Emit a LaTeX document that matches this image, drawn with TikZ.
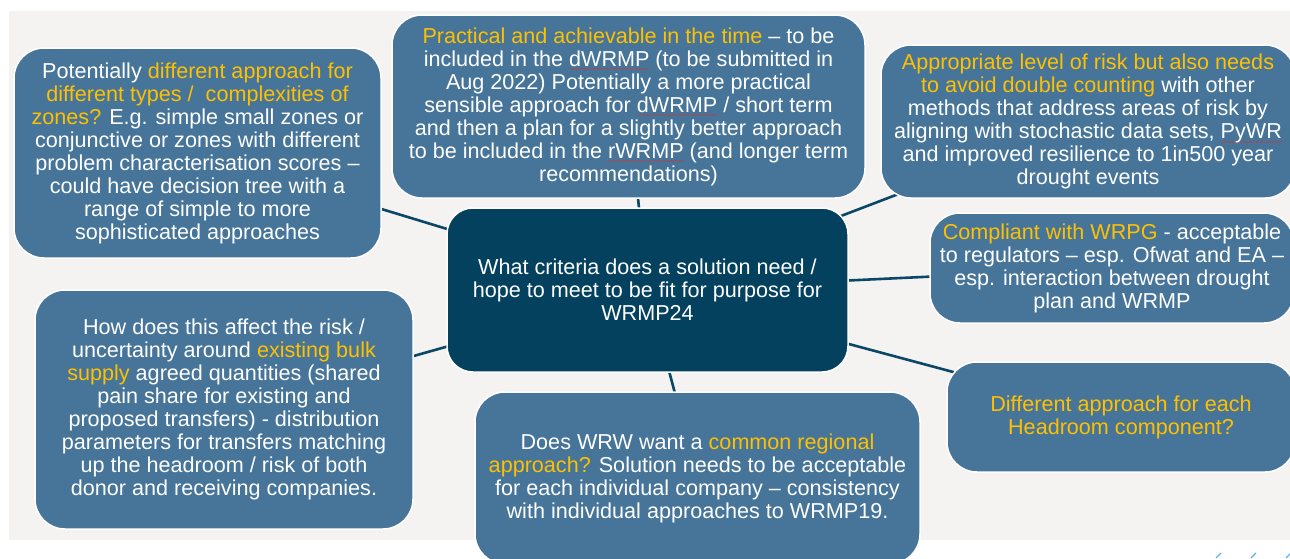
\documentclass[tikz,border=0pt]{standalone}
\usepackage{fontspec}
\setmainfont{Liberation Sans}
\definecolor{boxblue}{RGB}{70,117,153}
\definecolor{hubblue}{RGB}{3,65,95}
\definecolor{linkblue}{RGB}{11,72,104}
\definecolor{accent}{RGB}{255,192,0}
\definecolor{panelgrey}{RGB}{244,243,241}
\definecolor{spellred}{RGB}{215,50,50}
\definecolor{tickblue}{RGB}{90,180,230}
% highlighted phrase
\newcommand\ylw[1]{\textcolor{accent}{#1}}
% word with a red wavy proofing underline
\newcommand\sqword[1]{\setbox0=\hbox{#1}%
  \rlap{\raisebox{-6.5pt}{\textcolor{spellred}{\hbox to \wd0{\fontsize{9}{9}\selectfont
    \xleaders\hbox{\kern-0.6pt\textasciitilde\kern-0.6pt}\hfil}}}}\box0\relax}
\pgfdeclarelayer{bg}
\pgfsetlayers{bg,main}
\tikzset{
  idea/.style={draw=white, line width=1.5pt, fill=boxblue, rounded corners=30pt,
    text=white, align=center, inner sep=0pt,
    font=\fontsize{21.6}{23}\selectfont},
  hub/.style={idea, fill=hubblue, rounded corners=26pt},
  link/.style={draw=linkblue, line width=2.6pt}
}
\begin{document}
\begin{tikzpicture}[x=1pt,y=-1pt]
\useasboundingbox (0,0) rectangle (1290,558);

\node[hub, minimum width=401pt, minimum height=164pt] (c) at (647.5,290)
  {What criteria does a solution need /\\
   hope to meet to be fit for purpose for\\
   WRMP24};

\node[idea, minimum width=367pt, minimum height=210pt] (tl) at (197.5,153)
  {Potentially \ylw{different approach for}\\
   \ylw{different types /\ \ complexities of}\\
   \ylw{zones?} E.g. simple small zones or\\
   conjunctive or zones with different\\
   problem characterisation scores --\\
   could have decision tree with a\\
   range of simple to more\\
   sophisticated approaches};

\node[idea, minimum width=473pt, minimum height=183pt] (tc) at (628.5,106.5)
  {\ylw{Practical and achievable in the time} -- to be\\
   included in the \sqword{dWRMP} (to be submitted in\\
   Aug 2022) Potentially a more practical\\
   sensible approach for \sqword{dWRMP} / short term\\
   and then a plan for a slightly better approach\\
   to be included in the \sqword{rWRMP} (and longer term\\
   recommendations)};

\node[idea, minimum width=414pt, minimum height=153pt] (tr) at (1088,121.5)
  {\ylw{Appropriate level of risk but also needs}\\
   \ylw{to avoid double counting} with other\\
   methods that address areas of risk by\\
   aligning with stochastic data sets, \sqword{PyWR}\\
   and improved resilience to 1in500 year\\
   drought events};

\node[idea, minimum width=364pt, minimum height=110pt] (r1) at (1112,268)
  {\ylw{Compliant with WRPG} - acceptable\\
   to regulators -- esp. Ofwat and EA --\\
   esp. interaction between drought\\
   plan and WRMP};

\node[idea, minimum width=348pt, minimum height=110pt] (r2) at (1121,417)
  {\ylw{Different approach for each}\\
   \ylw{Headroom component?}};

\node[idea, minimum width=378pt, minimum height=239pt] (bl) at (224,409.5)
  {How does this affect the risk /\\
   uncertainty around \ylw{existing bulk}\\
   \ylw{supply} agreed quantities (shared\\
   pain share for existing and\\
   proposed transfers) - distribution\\
   parameters for transfers matching\\
   up the headroom / risk of both\\
   donor and receiving companies.};

\node[idea, minimum width=445pt, minimum height=172pt] (bc) at (697.5,478)
  {Does WRW want a \ylw{common regional}\\
   \ylw{approach?} Solution needs to be acceptable\\
   for each individual company -- consistency\\
   with individual approaches to WRMP19.};

\begin{pgfonlayer}{bg}
  % panel behind the mind map
  \fill[panelgrey] (9,11) rectangle (1290,540);
  % spokes from each idea to the central question
  \foreach \n in {tl,tc,tr,r1,r2,bl,bc}
    \draw[link] (\n.center) -- (c.center);
\end{pgfonlayer}

% small tick marks along the lower edge
\coordinate (k1) at (1216,558);
\coordinate (k2) at (1251,558);
\coordinate (k3) at (1286,558);
\foreach \k in {k1,k2,k3}
  \draw[tickblue, line width=1.2pt] (\k) -- ++(5,-5);
\end{tikzpicture}
\end{document}
